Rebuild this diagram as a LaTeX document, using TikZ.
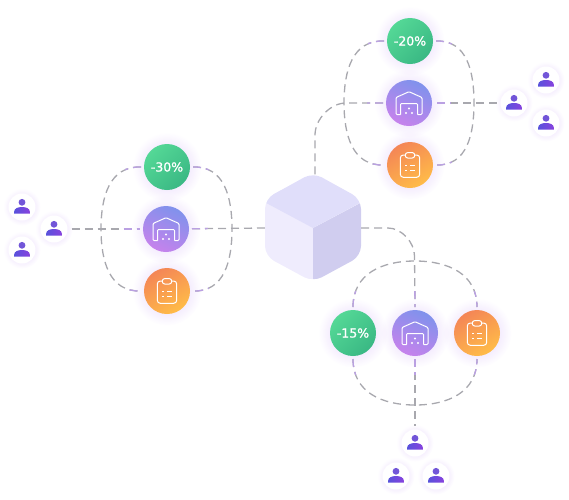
\documentclass[tikz,border=0pt]{standalone}
\usepackage{fontspec}
\newfontfamily\disclabel[FakeBold=1.1]{DejaVu Sans}
\usetikzlibrary{arrows.meta,calc,positioning,shadows,shadings,fadings}
\definecolor{mintA}{RGB}{84,216,150}
\definecolor{mintB}{RGB}{58,184,132}
\definecolor{lilacA}{RGB}{128,146,236}
\definecolor{lilacB}{RGB}{198,130,236}
\definecolor{amberA}{RGB}{244,134,86}
\definecolor{amberB}{RGB}{255,188,72}
\definecolor{linkgrey}{RGB}{168,168,174}
\definecolor{linklilac}{RGB}{186,160,226}
\definecolor{haze}{RGB}{176,120,245}
\definecolor{headcol}{RGB}{114,86,216}
\definecolor{bodyA}{RGB}{88,82,220}
\definecolor{bodyB}{RGB}{136,66,222}
\tikzfading[name=soft halo, inner color=transparent!0, outer color=transparent!100]
\tikzset{
  link/.style={line width=1.3pt, dash pattern=on 8pt off 5pt},
  disc/.style={circle, minimum size=46pt, inner sep=0pt, outer sep=3pt, text=white,
    font=\disclabel\fontsize{12.5}{14}\selectfont,
    general shadow={shadow scale=1.5, path fading=soft halo, fill=haze, opacity=.38}},
  mint disc/.style={disc, top color=mintA, bottom color=mintB, shading angle=45},
  lilac disc/.style={disc, top color=lilacA, bottom color=lilacB, shading angle=-25},
  amber disc/.style={disc, top color=amberA, bottom color=amberB, shading angle=30},
  user/.style={circle, fill=white, minimum size=27pt, inner sep=0pt, outer sep=4pt,
    general shadow={shadow scale=1.38, path fading=soft halo, fill=haze, opacity=.36}},
  icon/.style={draw=white, line width=1pt, line join=round, rounded corners=1pt},
  warehouse/.pic={
    \draw[icon] (-8.5,11.5) -- (-13,11.5) -- (-13,-5.5) -- (0,-11.3) -- (13,-5.5) -- (13,11.5) -- (8.5,11.5);
    \draw[icon] (-8.5,11.5) -- (-8.5,0.5) -- (8.5,0.5) -- (8.5,11.5);
    \fill[white] (0,5.5) circle (1.1) (-3,10) circle (1.1) (3,10) circle (1.1);
  },
  clipboard/.pic={
    \draw[icon, rounded corners=3pt] (-4.7,-10) -- (-9.7,-10) -- (-9.7,12.3) -- (9.7,12.3) -- (9.7,-10) -- (4.7,-10);
    \draw[icon, rounded corners=2.4pt, fill=amberA!70!amberB] (-4.7,-12.4) rectangle (4.7,-7);
    \draw[white, line width=.9pt] (-4.6,0) -- (-3.2,0) (-0.2,0) -- (5,0) (-4.6,5) -- (-3.2,5) (-0.2,5) -- (5,5);
  },
  person/.pic={
    \fill[headcol] (0,-4.7) circle (3.4);
    \shade[left color=bodyA, right color=bodyB]
      (-7.8,6.7) -- (-7.8,4.5) .. controls (-7.8,1.5) and (-4,0) .. (0,0)
      .. controls (4,0) and (7.8,1.5) .. (7.8,4.5) -- (7.8,6.7) -- cycle;
  },
}
% every connector of the picture, drawn twice below
\newcommand{\alllinks}{
  % left group
  \draw[link] (gL.west) to[out=178,in=90,looseness=1.1] (101,229) to[out=-90,in=182,looseness=1.1] (oL.west);
  \draw[link] (gL.east) to[out=2,in=90,looseness=1.1] (232,229) to[out=-90,in=-2,looseness=1.1] (oL.east);
  \draw[link] (uL2) -- (pL);
  \draw[link] (pL) -- (cube.west);
  % top group
  \draw[link] (gT.west) to[out=178,in=90,looseness=1.1] (344,103) to[out=-90,in=182,looseness=1.1] (oT.west);
  \draw[link] (gT.east) to[out=2,in=90,looseness=1.1] (474,103) to[out=-90,in=-2,looseness=1.1] (oT.east);
  \draw[link] (uT1) -- (pT);
  \draw[link] (pT.west) -- (346,103) to[out=180,in=90,looseness=.9] (315,135) -- ([xshift=2pt]cube.north);
  % bottom group
  \draw[link] (gB.north) to[out=90,in=180,looseness=1.1] (415,261) to[out=0,in=90,looseness=1.1] (oB.north);
  \draw[link] (gB.south) to[out=-90,in=180,looseness=1.1] (415,405) to[out=0,in=-90,looseness=1.1] (oB.south);
  \draw[link] (cube.east) -- (388,228) to[out=0,in=90,looseness=.9] (414.5,256) -- (pB.north);
  \draw[link] (pB.south) -- (uB1.north);
}

\begin{document}
\begin{tikzpicture}[x=1pt,y=-1pt]
  \useasboundingbox (0,0) rectangle (569,499);

  % Box in the middle
  \node[minimum width=96pt, minimum height=104pt, inner sep=0pt] (cube) at (313,228) {};
  \begin{scope}
    \clip[rounded corners=10pt] (313,172.5) -- (361,199) -- (361,256) -- (313,282) -- (265,256) -- (265,199) -- cycle;
    \fill[color={rgb,255:red,239;green,236;blue,253}] (260,190) rectangle (313,290);
    \fill[color={rgb,255:red,208;green,205;blue,239}] (313,228) rectangle (366,290);
    \fill[color={rgb,255:red,208;green,205;blue,239}] (313,228) -- (366,200) -- (366,228) -- cycle;
    \fill[color={rgb,255:red,224;green,222;blue,250}] (313,228) -- (255,197) -- (255,165) -- (371,165) -- (371,197) -- cycle;
  \end{scope}

  % Discs, left group
  \node[mint disc] (gL) at (167,167) {-30\%};
  \node[lilac disc] (pL) at (166,229) {};
  \node[amber disc] (oL) at (167,291) {};
  % Discs, top group
  \node[mint disc] (gT) at (410,41) {-20\%};
  \node[lilac disc] (pT) at (409,103) {};
  \node[amber disc] (oT) at (410,165) {};
  % Discs, bottom group
  \node[mint disc] (gB) at (353,333) {-15\%};
  \node[lilac disc] (pB) at (415,333) {};
  \node[amber disc] (oB) at (477,333) {};

  % Users
  \node[user] (uL1) at (22,207) {};
  \node[user] (uL2) at (54,229) {};
  \node[user] (uL3) at (22,250) {};
  \node[user] (uT1) at (514,103) {};
  \node[user] (uT2) at (546,80) {};
  \node[user] (uT3) at (546,123) {};
  \node[user] (uB1) at (415,443) {};
  \node[user] (uB2) at (396,476) {};
  \node[user] (uB3) at (436,476) {};

  % Icons
  \foreach \n in {pL,pT,pB} \pic at (\n) {warehouse};
  \foreach \n in {oL,oT,oB} \pic at (\n) {clipboard};
  \foreach \n in {uL1,uL2,uL3,uT1,uT2,uT3,uB1,uB2,uB3} \pic at (\n) {person};

  % Connectors: grey, turning lilac close to the discs
  \begin{scope}[color=linkgrey]
    \alllinks
  \end{scope}
  \begin{scope}[color=linklilac]
    \clip (gL) circle (42) (pL) circle (42) (oL) circle (42)
          (gT) circle (42) (pT) circle (42) (oT) circle (42)
          (gB) circle (42) (pB) circle (42) (oB) circle (42);
    \alllinks
  \end{scope}
\end{tikzpicture}
\end{document}
